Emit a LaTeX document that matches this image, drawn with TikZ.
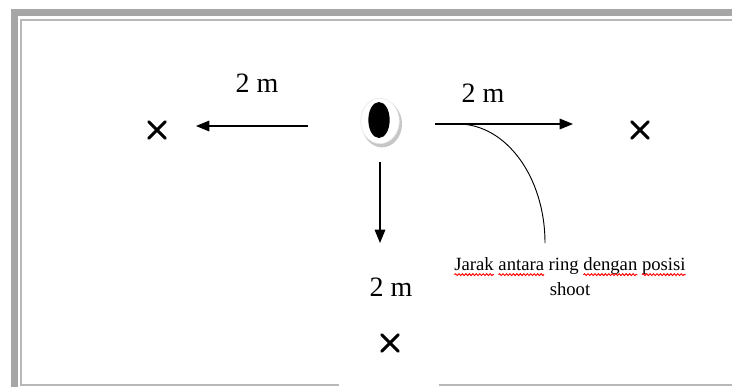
\documentclass[tikz,border=0pt]{standalone}
\usepackage{fontspec}
\setmainfont{Liberation Serif}
\usetikzlibrary{arrows.meta, shapes.geometric, shapes.misc, decorations.pathmorphing}
\definecolor{framegray}{HTML}{a6a6a6}
\definecolor{linegray}{HTML}{b8b8b8}
\newsavebox\wordbox
\newcommand\spellwave[1]{\sbox\wordbox{#1}\rlap{\usebox\wordbox}%
  \tikz[baseline=0pt, x=1pt, y=1pt]{\useasboundingbox (0pt,0pt) rectangle ({\the\wd\wordbox},1pt);
    \draw[red, line width=0.7pt, decorate, decoration={snake, amplitude=0.7pt, segment length=2.6pt}]
      (0pt,-2.8pt) -- ({\the\wd\wordbox},-2.8pt);}}

\begin{document}
\begin{tikzpicture}[x=0.75pt, y=-0.75pt,
    arr/.style={line width=0.8pt, -{Triangle[length=10pt, width=8pt]}},
    xmark/.style={cross out, draw, line width=2.3pt, line cap=round, minimum size=10pt, inner sep=0pt},
    dist/.style={font=\fontsize{21}{24}\selectfont}]
    \useasboundingbox (0,0) rectangle (732,387);
    % frame
    \fill[framegray] (11,9) rectangle (732,16);
    \fill[framegray] (11,9) rectangle (18,387);
    \draw[linegray, line width=1pt] (339,385) -- (21,385) -- (21,20) -- (732,20);
    \draw[linegray, line width=1pt] (439,385) -- (732,385);
    % ring
    \node[ellipse, fill=gray!45, minimum width=30pt, minimum height=35pt] (ringshadow) at (382,124) {};
    \node[ellipse, fill=white, draw=gray!20, minimum width=29pt, minimum height=34pt] (ringhalo) at (380,121) {};
    \node[ellipse, fill=black, minimum width=16pt, minimum height=27pt] (ring) at (379,120) {};
    % shooting spots
    \node[xmark] (xleft) at (157,130) {};
    \node[xmark] (xright) at (640,130) {};
    \node[xmark] (xdown) at (390,343) {};
    \node[dist] (dleft) at (257,83) {2 m};
    \node[dist] (dright) at (483,93) {2 m};
    \node[dist] (ddown) at (391,287) {2 m};
    \coordinate (lefttail) at (308,126);
    \coordinate (lefthead) at (196,126);
    \coordinate (righttail) at (435,124);
    \coordinate (righthead) at (573,124);
    \coordinate (downtail) at (380,162);
    \coordinate (downhead) at (380,243);
    \draw[arr] (lefttail) -- (lefthead);
    \draw[arr] (righttail) -- (righthead);
    \draw[arr] (downtail) -- (downhead);
    % callout
    \coordinate (curvestart) at (458,124);
    \coordinate (curveend) at (545,243);
    \draw[line width=0.7pt] (curvestart) .. controls (506,124) and (545,177) .. (curveend);
    \node[align=center, font=\fontsize{14}{18.75}\selectfont] (note) at (570,277)
      {\spellwave{Jarak} \spellwave{antara} ring \spellwave{dengan} \spellwave{posisi}\\shoot};
\end{tikzpicture}
\end{document}
